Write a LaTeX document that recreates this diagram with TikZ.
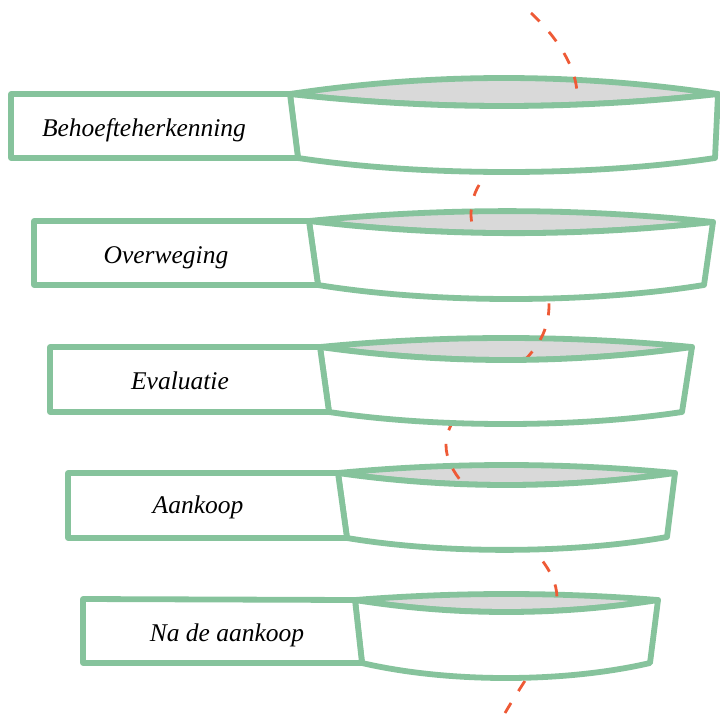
\documentclass[tikz,border=0pt]{standalone}
\usepackage{fontspec}
\setmainfont{Liberation Serif}
\definecolor{fgreen}{HTML}{86C39C}
\definecolor{fgrey}{HTML}{D9D9D9}
\definecolor{fred}{HTML}{EE5A36}
\tikzset{
  outline/.style={draw=fgreen, line width=5.8pt, line join=round},
  lensshape/.style={outline, fill=fgrey},
  bodyshape/.style={outline, fill=white},
  labelbox/.style={outline, fill=white},
  labeltext/.style={font=\fontsize{25.5}{30}\selectfont\itshape, anchor=base, inner sep=0pt},
  journey/.style={draw=fred, line width=2.8pt, dash pattern=on 12pt off 14pt},
}
\begin{document}
\begin{tikzpicture}[x=1pt,y=-1pt]
\useasboundingbox (0,0) rectangle (720,713);
% layer data: left/top/bottom/LTx/LTy/LBx/RTx/RTy/RBx/RBy/lenstop/lensbottom/sag
\def\layers{11/94/158/290/94/298/718/94/715/158/78/106/172,
  34/221/285/309/221/318/713/222/704/285/211/233/299,
  50/347/412/320/347/329/692/347/682/412/338/360/424,
  68/473/538/338/473/347/675/473/667/537/465/485/550,
  83/599/663/355/600/362/658/600/650/663/594/612/678}
% lenses
\foreach \bl/\t/\b/\ltx/\lty/\lbx/\rtx/\rty/\rbx/\rby/\lt/\lb/\bs in \layers {
  \pgfmathsetmacro{\ca}{\ltx+0.3333*(\rtx-\ltx)}
  \pgfmathsetmacro{\cb}{\ltx+0.6667*(\rtx-\ltx)}
  \pgfmathsetmacro{\ta}{\lty+(\lt-\lty)*1.3333}
  \pgfmathsetmacro{\tb}{\lty+(\lb-\lty)*1.3333}
  \path[lensshape] (\ltx,\lty) .. controls (\ca,\ta) and (\cb,\ta) .. (\rtx,\rty)
     .. controls (\cb,\tb) and (\ca,\tb) .. cycle;
}
% customer journey curve
\coordinate (j0) at (531,13);
\coordinate (j1) at (577,95);
\coordinate (j2) at (471,215);
\coordinate (j3) at (549,305);
\coordinate (j4) at (446,445);
\coordinate (j5) at (557,598);
\coordinate (j6) at (505,713);
\draw[journey] (j0) .. controls (560,40) and (577,70) .. (j1)
  .. controls (577,145) and (471,145) .. (j2)
  .. controls (471,260) and (549,255) .. (j3)
  .. controls (549,380) and (446,390) .. (j4)
  .. controls (446,500) and (557,540) .. (j5)
  .. controls (557,640) and (530,670) .. (j6);
% bodies and label boxes
\foreach \bl/\t/\b/\ltx/\lty/\lbx/\rtx/\rty/\rbx/\rby/\lt/\lb/\bs in \layers {
  \pgfmathsetmacro{\ca}{\ltx+0.3333*(\rtx-\ltx)}
  \pgfmathsetmacro{\cb}{\ltx+0.6667*(\rtx-\ltx)}
  \pgfmathsetmacro{\tb}{\lty+(\lb-\lty)*1.3333}
  \pgfmathsetmacro{\da}{\lbx+0.3*(\rbx-\lbx)}
  \pgfmathsetmacro{\db}{\lbx+0.7*(\rbx-\lbx)}
  \pgfmathsetmacro{\sb}{\b+(\bs-\b)*1.3333}
  \path[bodyshape] (\ltx,\lty) .. controls (\ca,\tb) and (\cb,\tb) .. (\rtx,\rty)
     -- (\rbx,\rby) .. controls (\db,\sb) and (\da,\sb) .. (\lbx,\b) -- cycle;
  \path[labelbox] (\bl,\t) -- (\ltx,\lty) -- (\lbx,\b) -- (\bl,\b) -- cycle;
}
\node[labeltext] (l1) at (144,136) {Behoefteherkenning};
\node[labeltext] (l2) at (166,263) {Overweging};
\node[labeltext] (l3) at (180,389) {Evaluatie};
\node[labeltext] (l4) at (198,513) {Aankoop};
\node[labeltext] (l5) at (227,641) {Na de aankoop};
\end{tikzpicture}
\end{document}
